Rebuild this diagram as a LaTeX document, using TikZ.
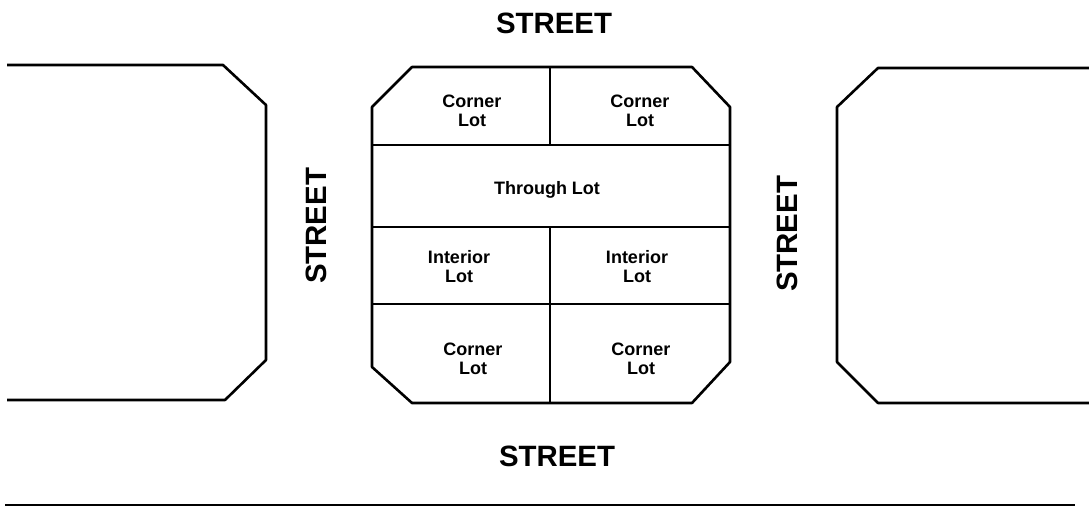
\documentclass[tikz,border=0pt]{standalone}
\usepackage{fontspec}
\setmainfont{Liberation Sans}
\usetikzlibrary{positioning}
\tikzset{
    x=0.5pt, y=-0.5pt, % one unit is one pixel of the plan
    block/.style={line width=1.3pt, line join=round}, % outline of a city block
    lotline/.style={line width=1pt}, % lines between the lots
    streetline/.style={line width=0.8pt}, % edge of the street at the bottom
    street/.style={font=\fontsize{14.7}{16}\selectfont\bfseries, inner sep=0pt}, % street names
    lot/.style={font=\fontsize{9}{9.5}\selectfont\bfseries, align=center, inner sep=0pt}, % lot names
}
\begin{document}
\begin{tikzpicture}
    \useasboundingbox (0,0) rectangle (1089,508);

    % blocks
    \draw[block] (7,65) -- (223,65) -- (266,105) -- (266,360) -- (225,400) -- (7,400);
    \draw[block] (1089,68) -- (878,68) -- (837,107) -- (837,362) -- (878,403) -- (1089,403);
    \draw[block] (412,67) -- (692,67) -- (730,107) -- (730,362) -- (692,403)
        -- (412,403) -- (372,367) -- (372,107) -- cycle;

    % lots
    \draw[lotline] (372,145) -- (730,145);
    \draw[lotline] (372,227) -- (730,227);
    \draw[lotline] (372,304) -- (730,304);
    \draw[lotline] (550,67) -- (550,145);
    \draw[lotline] (550,227) -- (550,403);

    \draw[streetline] (5,505) -- (1075,505);

    \node[lot](cornerNW) at (472,111){Corner\\Lot};
    \node[lot](cornerNE) at (640,111){Corner\\Lot};
    \node[lot](through) at (547,190){Through Lot};
    \node[lot](interiorW) at (459,267){Interior\\Lot};
    \node[lot](interiorE) at (637,267){Interior\\Lot};
    \node[lot](cornerSW) at (473,359){Corner\\Lot};
    \node[lot](cornerSE) at (641,359){Corner\\Lot};

    \node[street](streetN) at (554,23){STREET};
    \node[street](streetS) at (557,456){STREET};
    \node[street, rotate=90](streetW) at (316,226){STREET};
    \node[street, rotate=90](streetE) at (787,234){STREET};
\end{tikzpicture}
\end{document}
